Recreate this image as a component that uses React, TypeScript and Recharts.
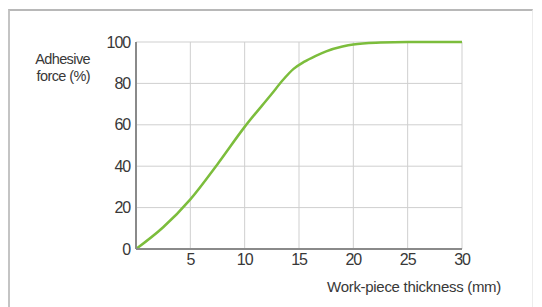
import { CartesianGrid, Line, LineChart, XAxis, YAxis } from "recharts";

// thickness in mm vs. adhesive force in %
const thickness = [0, 2.5, 5, 7.5, 10, 12.5, 13.5, 14.5, 15.5, 16.5, 17.5, 19, 20, 22.5, 25, 30];
const force = [0, 10.5, 24, 41, 59, 75, 81.5, 87, 90.5, 93.2, 95.5, 97.8, 98.8, 99.7, 100, 100];

const xTicks = [5, 10, 15, 20, 25, 30];
const yTicks = [0, 20, 40, 60, 80, 100];

const FONT = "'Liberation Sans', Arial, sans-serif";
const TEXT = "#383838";

export default function App() {
  const data = thickness.map((t, i) => ({ t, f: force[i] }));

  return (
    <div style={{ position: "absolute", left: 0, top: 0, width: 542, height: 307, background: "#fff", fontFamily: FONT }}>
      {/* frame */}
      <div
        style={{
          position: "absolute",
          left: 8,
          top: 9,
          width: 522,
          height: 310,
          borderLeft: "2px solid #c4c4c4",
          borderTop: "2px solid #b8b8b8",
          borderRight: "1px solid #ececec",
        }}
      />
      <div
        style={{
          position: "absolute",
          right: 542 - 90,
          top: 51,
          textAlign: "right",
          fontSize: 14.5,
          lineHeight: "17px",
          letterSpacing: -0.6,
          color: TEXT,
        }}
      >
        Adhesive
        <br />
        force (%)
      </div>
      <div
        style={{
          position: "absolute",
          right: 542 - 501,
          top: 278,
          fontSize: 15,
          letterSpacing: -0.3,
          color: TEXT,
          whiteSpace: "nowrap",
        }}
      >
        Work-piece thickness (mm)
      </div>
      <LineChart
        width={542}
        height={307}
        data={data}
        margin={{ top: 42, right: 80, bottom: 28, left: 96 }}
        style={{ position: "absolute", left: 0, top: 0 }}
      >
        <CartesianGrid stroke="#cfcfcf" strokeWidth={1} />
        <XAxis
          dataKey="t"
          type="number"
          domain={[0, 30]}
          ticks={xTicks}
          height={30}
          tickLine={false}
          tickSize={0}
          tickMargin={5}
          axisLine={{ stroke: "#8a8a8a", strokeWidth: 2 }}
          tick={{ fill: TEXT, fontSize: 16, fontFamily: FONT, letterSpacing: -1.1 }}
        />
        <YAxis
          type="number"
          domain={[0, 100]}
          ticks={yTicks}
          width={40}
          tickLine={false}
          tickSize={0}
          tickMargin={6}
          axisLine={{ stroke: "#8a8a8a", strokeWidth: 2 }}
          tick={{ fill: TEXT, fontSize: 16, fontFamily: FONT, letterSpacing: -1.1 }}
        />
        <Line
          type="monotone"
          dataKey="f"
          stroke="#7cbd3c"
          strokeWidth={2.5}
          dot={false}
          activeDot={false}
          isAnimationActive={false}
        />
      </LineChart>
    </div>
  );
}
